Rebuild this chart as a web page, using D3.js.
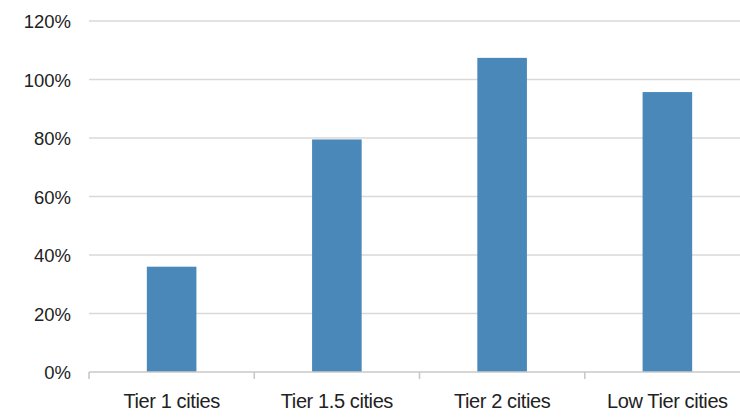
<!DOCTYPE html>
<html><head><meta charset="utf-8">
<script src="https://cdn.jsdelivr.net/npm/d3@7"></script>
<style>html,body{margin:0;padding:0;background:#fff;}svg{display:block;}</style>
</head><body>
<svg id="chart" width="740" height="417"></svg>
<script>
const categories = ["Tier 1 cities", "Tier 1.5 cities", "Tier 2 cities", "Low Tier cities"];
const values = [36, 79.5, 107.4, 95.7];
const yTicks = [0, 20, 40, 60, 80, 100, 120];

const svg = d3.select("#chart");
const x = d3.scaleBand().domain(categories).range([89, 750]).paddingInner(0.7).paddingOuter(0.35);
const xEdge = d3.scaleLinear().domain([0, categories.length]).range([89, 750]);
const y = d3.scaleLinear().domain([0, 120]).range([372, 21]);

// gridlines
svg.append("g").selectAll("line").data(yTicks.filter(d => d > 0)).join("line")
  .attr("x1", 89).attr("x2", 740)
  .attr("y1", d => y(d)).attr("y2", d => y(d))
  .attr("stroke", "#d9d9d9").attr("stroke-width", 1.6);

// y labels
svg.append("g").selectAll("text").data(yTicks).join("text")
  .attr("x", 71).attr("y", d => y(d) + 7)
  .attr("text-anchor", "end")
  .attr("font-family", "Liberation Sans, Arial, sans-serif")
  .attr("font-size", "18.5px").attr("fill", "#222")
  .text(d => d + "%");

// bars
svg.append("g").selectAll("rect").data(values).join("rect")
  .attr("x", (d, i) => x(categories[i]))
  .attr("width", x.bandwidth())
  .attr("y", d => y(d))
  .attr("height", d => y(0) - y(d))
  .attr("fill", "#4a88ba");

// x axis line & ticks
svg.append("line").attr("x1", 89).attr("x2", 740).attr("y1", y(0)).attr("y2", y(0))
  .attr("stroke", "#c8c8c8").attr("stroke-width", 1.6);
svg.append("g").selectAll("line").data(d3.range(categories.length + 1)).join("line")
  .attr("x1", d => xEdge(d)).attr("x2", d => xEdge(d))
  .attr("y1", y(0)).attr("y2", y(0) + 7)
  .attr("stroke", "#c8c8c8").attr("stroke-width", 1.6);

// x labels
svg.append("g").selectAll("text").data(categories).join("text")
  .attr("x", d => x(d) + x.bandwidth() / 2).attr("y", 408)
  .attr("text-anchor", "middle")
  .attr("font-family", "Liberation Sans, Arial, sans-serif")
  .attr("font-size", "20px").attr("letter-spacing", "-0.4px").attr("fill", "#222")
  .text(d => d);
</script>
</body></html>
